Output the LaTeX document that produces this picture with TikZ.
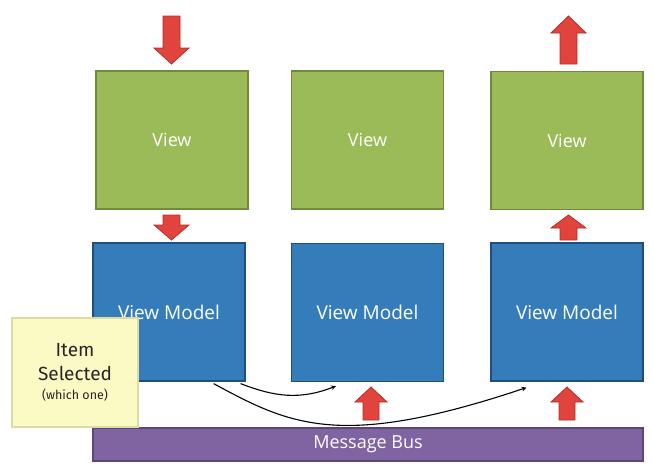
\documentclass[tikz,border=0pt]{standalone}
\usepackage{fontspec}
\setmainfont{Open Sans}
\newfontfamily\notefont{Fira Sans}
\usetikzlibrary{calc}
\definecolor{vgreen}{HTML}{9BBB59}
\definecolor{vgreenb}{HTML}{6F8A3C}
\definecolor{vblue}{HTML}{357DBA}
\definecolor{vblueb}{HTML}{1F4E7A}
\definecolor{vpurple}{HTML}{8064A2}
\definecolor{vpurpleb}{HTML}{5B4677}
\definecolor{vred}{HTML}{E0443C}
\definecolor{vredb}{HTML}{B22E28}
\definecolor{vnote}{HTML}{FBF9C4}
\definecolor{vnoteb}{HTML}{DCDBA3}
\tikzset{
  box/.style={draw, line width=1.2pt, minimum width=152pt, minimum height=138pt, inner sep=0pt, text=white, font=\fontsize{18}{20}\selectfont},
  viewbox/.style={box, fill=vgreen, draw=vgreenb},
  vmbox/.style={box, fill=vblue, draw=vblueb, font=\fontsize{19}{21}\selectfont},
  busbox/.style={draw=vpurpleb, fill=vpurple, line width=1.2pt, minimum width=550pt, minimum height=33pt, inner sep=0pt, text=white, font=\fontsize{18}{20}\selectfont},
  notebox/.style={draw=vnoteb, fill=vnote, line width=1.5pt, minimum width=126pt, minimum height=109pt, inner sep=0pt, align=center, text=black!85, font=\notefont\fontsize{19}{26}\selectfont},
  blockarrow/.style={fill=vred, draw=vredb, line width=0.8pt, line join=miter},
  flow/.style={-stealth, line width=1.1pt, black}
}
\begin{document}
\begin{tikzpicture}[x=1pt, y=-1pt]
\useasboundingbox (0,0) rectangle (654,469);
% boxes
\node[viewbox] (v1) at (172,140) {View};
\node[viewbox] (v2) at (367.5,140) {View};
\node[viewbox] (v3) at (567,140.5) {View};
\node[vmbox] (vm1) at (169,312) {View Model};
\node[vmbox] (vm2) at (367.5,312.5) {View Model};
\node[vmbox] (vm3) at (567,312) {View Model};
\node[busbox] (bus) at (368,444.5) {Message Bus};
\node[notebox] (note) at (75,372.5) {Item\\[-2pt]Selected\\[-7pt]{\fontsize{12.5}{14}\selectfont (which one)}};
% block arrows (down)
\draw[blockarrow] (163,16) -- (180,16) -- (180,48) -- (189,48) -- (171.5,64) -- (154,48) -- (163,48) -- cycle;
\draw[blockarrow] (163,215) -- (180,215) -- (180,225) -- (189,225) -- (171.5,240) -- (154,225) -- (163,225) -- cycle;
% block arrows (up)
\draw[blockarrow] (560,64) -- (577,64) -- (577,33) -- (586,33) -- (568.5,16) -- (551,33) -- (560,33) -- cycle;
\draw[blockarrow] (560,240) -- (577,240) -- (577,228) -- (586,228) -- (568.5,215) -- (551,228) -- (560,228) -- cycle;
\draw[blockarrow] (363,420) -- (379,420) -- (379,402) -- (387,402) -- (371,387) -- (355,402) -- (363,402) -- cycle;
\draw[blockarrow] (559,420) -- (575,420) -- (575,402) -- (583,402) -- (567,387) -- (551,402) -- (559,402) -- cycle;
% curved connectors
\coordinate (s1) at ($(vm1.south east)+(-5,2)$);
\coordinate (e1) at ($(vm2.south west)+(45,4)$);
\coordinate (s2) at ($(vm1.south east)+(-32,2)$);
\coordinate (e2) at ($(vm3.south west)+(36,6)$);
\draw[flow] (s1) .. controls (275,397) and (300,400) .. (e1);
\draw[flow] (s2) .. controls (290,425) and (340,450) .. (e2);
\end{tikzpicture}
\end{document}
